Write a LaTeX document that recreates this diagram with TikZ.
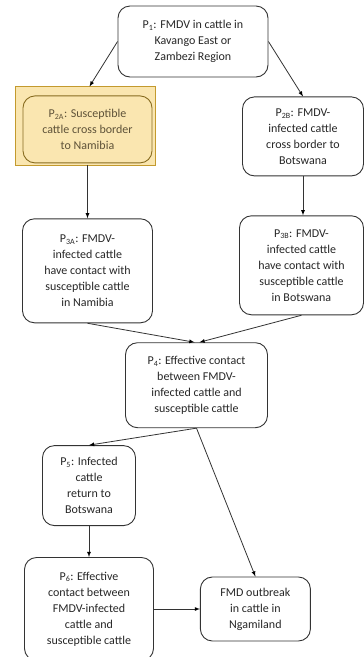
\documentclass[tikz,border=0pt]{standalone}
\usepackage{fontspec}
\setmainfont{Carlito}
\usetikzlibrary{positioning,shapes,arrows,backgrounds}
\definecolor{hlfill}{HTML}{FAE6B0}
\definecolor{hldraw}{HTML}{C39A2E}
\definecolor{boxline}{HTML}{333333}
\definecolor{hltext}{HTML}{5E5238}

\begin{document}
\begin{tikzpicture}[
		  node distance=1cm and 0cm,
		  mynode/.style={draw=boxline,line width=0.9pt,rounded corners=12pt,align=center,
		    font=\fontsize{12}{16}\selectfont,text=black!85,inner sep=2pt},
		  hlbox/.style={draw=hldraw,fill=hlfill,line width=1pt}
		]
		\useasboundingbox (0,0) rectangle (364pt,-657pt);
		\node[mynode,minimum width=150pt,minimum height=71pt] at (193pt,-41.5pt) (P1)
		  {P\textsubscript{1}: FMDV in cattle in\\Kavango East or\\Zambezi Region};
		\node[mynode,minimum width=129pt,minimum height=67pt,below=18pt of P1,xshift=-105.5pt,
		  draw=hldraw!70!black,text=hltext] (P2A)
		  {P\textsubscript{2A}: Susceptible\\cattle cross border\\to Namibia};
		\node[mynode,minimum width=121pt,minimum height=79pt,below=19pt of P1,xshift=110pt] (P2B)
		  {P\textsubscript{2B}: FMDV-\\infected cattle\\cross border to\\Botswana};
		\node[mynode,minimum width=130pt,minimum height=104pt,below=55pt of P2A] (P3A)
		  {P\textsubscript{3A}: FMDV-\\infected cattle\\have contact with\\susceptible cattle\\in Namibia};
		\node[mynode,minimum width=124pt,minimum height=99pt,below=39pt of P2B,xshift=-1.5pt] (P3B)
		  {P\textsubscript{3B}: FMDV-\\infected cattle\\have contact with\\susceptible cattle\\in Botswana};
		\node[mynode,minimum width=142pt,minimum height=85pt,below=19pt of P3A,xshift=109pt] (P4)
		  {P\textsubscript{4}: Effective contact\\between FMDV-\\infected cattle and\\susceptible cattle};
		\node[mynode,minimum width=93pt,minimum height=80pt,below=17pt of P4,xshift=-107.5pt] (P5)
		  {P\textsubscript{5}: Infected\\cattle\\return to\\Botswana};
		\node[mynode,minimum width=129pt,minimum height=103pt,below=31pt of P5] (P6)
		  {P\textsubscript{6}: Effective\\contact between\\FMDV-infected\\cattle and\\susceptible cattle};
		\node[mynode,minimum width=110pt,minimum height=64pt,right=46pt of P6] (FMD)
		  {FMD outbreak\\in cattle in\\Ngamiland};
		% highlight behind P2A
		\begin{scope}[on background layer]
		\path[hlbox] ([xshift=-7pt,yshift=-2pt]P2A.south west) rectangle ([xshift=3pt,yshift=9pt]P2A.north east);
		\end{scope}
		\coordinate (hltop) at ([xshift=2pt,yshift=9pt]P2A.north);
		\coordinate (hlbot) at ([yshift=-2pt]P2A.south);
		\path[draw=boxline,line width=0.8pt] (P1.west) edge[-latex] (hltop)
			(P1.east) edge[-latex] (P2B.north)
			(hlbot) edge[-latex] (P3A.north)
			(P2B.south) edge[-latex] (P2B.south |- P3B.north)
			(P3A.south) edge[-latex] ([xshift=-2pt]P4.north)
			(P3B.south) edge[-latex] ([xshift=3pt]P4.north)
			(P4.south) edge[-latex] (P5.north)
			(P4.south) edge[-latex] (FMD.north)
			(P5) edge[-latex] (P6)
			(P6) edge[-latex] (FMD);
		\end{tikzpicture}
\end{document}
